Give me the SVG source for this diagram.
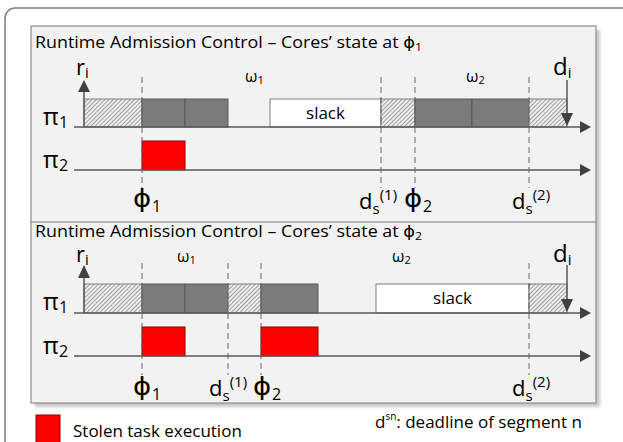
<svg xmlns="http://www.w3.org/2000/svg" width="623" height="442" viewBox="0 0 623 442">
<style>
text{font-family:"Open Sans","DejaVu Sans",sans-serif;fill:#000}
.panel{fill:#f2f2f2;stroke:#8c8c8c;stroke-width:1.2}
.hatch{fill:url(#h);stroke:#7f7f7f;stroke-width:1}
.dark{fill:#7b7b7b;stroke:#595959;stroke-width:1}
.slack{fill:#fff;stroke:#7f7f7f;stroke-width:1}
.red{fill:#ff0000;stroke:#900000;stroke-width:1}
.axis{stroke:#595959;stroke-width:1.5;fill:none}
.dash{stroke:#666;stroke-width:1;stroke-dasharray:6,4;fill:none}
.head{fill:#404040}
.t{font-size:16px}
.w{font-size:16px}
.lab{font-size:22px}
.phi{font-size:24px;font-family:"DejaVu Sans ExtraLight","DejaVu Sans",sans-serif}
.pi{font-size:24px}
.sub{font-size:16px}
</style>
<defs>
<pattern id="h" width="3" height="3" patternUnits="userSpaceOnUse" patternTransform="rotate(45)">
<rect width="3" height="3" fill="#eeeeee"/>
<line x1="0" y1="0" x2="0" y2="3" stroke="#6a6a6a" stroke-width="1.2"/>
</pattern>
<filter id="sh" x="-5%" y="-5%" width="110%" height="110%"><feGaussianBlur stdDeviation="1.5"/></filter>
</defs>
<rect x="0" y="0" width="623" height="442" fill="#fff"/>
<rect x="5" y="8" width="700" height="500" rx="10" fill="#fff" stroke="#7f7f7f" stroke-width="1.5"/>
<rect x="35" y="30" width="565" height="377" fill="#c8c8c8" filter="url(#sh)"/>

<g id="panel1">
<rect class="panel" x="31" y="26" width="565" height="197"/>
<text class="t" x="35" y="48" textLength="387" lengthAdjust="spacingAndGlyphs">Runtime Admission Control – Cores’ state at ϕ<tspan font-size="11" dy="3">1</tspan></text>
</g>
<g id="panel2">
<rect class="panel" x="31" y="222" width="565" height="181"/>
<text class="t" x="35" y="237" textLength="387" lengthAdjust="spacingAndGlyphs">Runtime Admission Control – Cores’ state at ϕ<tspan font-size="11" dy="3">2</tspan></text>
</g>

<g id="nodes1">
<rect class="hatch" x="84" y="99" width="58" height="28"/>
<rect class="dark" x="142" y="99" width="43" height="28"/>
<rect class="dark" x="185" y="99" width="43" height="28"/>
<rect class="slack" x="270" y="99" width="111" height="28"/>
<text x="325.5" y="119" font-size="17" text-anchor="middle">slack</text>
<rect class="hatch" x="381" y="99" width="34" height="28"/>
<rect class="dark" x="415" y="99" width="57" height="28"/>
<rect class="dark" x="472" y="99" width="57" height="28"/>
<rect class="hatch" x="529" y="99" width="38" height="28"/>
<rect class="red" x="142" y="141" width="43" height="29"/>
</g>
<g id="nodes2">
<rect class="hatch" x="84" y="284" width="58" height="29"/>
<rect class="dark" x="142" y="284" width="43" height="29"/>
<rect class="dark" x="185" y="284" width="43" height="29"/>
<rect class="hatch" x="228" y="284" width="33" height="29"/>
<rect class="dark" x="261" y="284" width="57" height="29"/>
<rect class="slack" x="376" y="284" width="153" height="29"/>
<text x="452.5" y="304" font-size="17" text-anchor="middle">slack</text>
<rect class="hatch" x="529" y="284" width="38" height="29"/>
<rect class="red" x="142" y="327" width="43" height="29"/>
<rect class="red" x="261" y="327" width="57" height="29"/>
</g>

<g id="connectors">
<path class="axis" d="M74 127H582M74 170H582M74 313H582M74 356H582"/>
<polygon class="head" points="580,121 591,127 580,133"/>
<polygon class="head" points="580,164 591,170 580,176"/>
<polygon class="head" points="580,307 591,313 580,319"/>
<polygon class="head" points="580,350 591,356 580,362"/>
<path class="axis" d="M84 127V92M567 80V114M84 313V277M567 265V300"/>
<polygon class="head" points="84,80 78,92 90,92"/>
<polygon class="head" points="561,113 573,113 567,126"/>
<polygon class="head" points="84,265 78,278 90,278"/>
<polygon class="head" points="561,299 573,299 567,312"/>
<path class="dash" d="M142 77V188M381 77V188M415 77V188M529 77V188"/>
<path class="dash" d="M142 263V375M228 263V375M261 263V375M529 263V375"/>
</g>

<g id="labels1">
<text x="76" y="75" font-size="22">r<tspan font-size="15" dy="3">i</tspan></text>
<text x="553" y="75" font-size="24">d<tspan font-size="15" dy="3">i</tspan></text>
<text class="w" x="245" y="82">ω<tspan font-size="11" dy="2">1</tspan></text>
<text class="w" x="466" y="82">ω<tspan font-size="11" dy="2">2</tspan></text>
<text class="pi" x="43" y="125">π</text><text class="sub" x="59" y="128">1</text>
<text class="pi" x="43" y="168">π</text><text class="sub" x="59" y="171">2</text>
<text class="phi" transform="translate(133,207) scale(1.15,1)">ϕ</text><text class="sub" x="152" y="212">1</text>
<text class="lab" x="359" y="209">d<tspan font-size="15" dy="5">s</tspan><tspan font-size="15" dy="-14">(1)</tspan></text>
<text class="phi" transform="translate(404,207) scale(1.15,1)">ϕ</text><text class="sub" x="423" y="212">2</text>
<text class="lab" x="512" y="209">d<tspan font-size="15" dy="5">s</tspan><tspan font-size="15" dy="-14">(2)</tspan></text>
</g>
<g id="labels2">
<text x="76" y="262" font-size="22">r<tspan font-size="15" dy="3">i</tspan></text>
<text x="553" y="262" font-size="24">d<tspan font-size="15" dy="3">i</tspan></text>
<text class="w" x="177" y="262">ω<tspan font-size="11" dy="2">1</tspan></text>
<text class="w" x="392" y="262">ω<tspan font-size="11" dy="2">2</tspan></text>
<text class="pi" x="43" y="310">π</text><text class="sub" x="59" y="313">1</text>
<text class="pi" x="43" y="354">π</text><text class="sub" x="59" y="357">2</text>
<text class="phi" transform="translate(133,395) scale(1.15,1)">ϕ</text><text class="sub" x="152" y="400">1</text>
<text class="lab" x="209" y="396">d<tspan font-size="15" dy="5">s</tspan><tspan font-size="15" dy="-14">(1)</tspan></text>
<text class="phi" transform="translate(253,395) scale(1.15,1)">ϕ</text><text class="sub" x="272" y="400">2</text>
<text class="lab" x="512" y="396">d<tspan font-size="15" dy="5">s</tspan><tspan font-size="15" dy="-14">(2)</tspan></text>
</g>

<g id="legend">
<rect class="red" x="36" y="415" width="24" height="32"/>
<text x="73" y="437" font-size="17">Stolen task execution</text>
<text x="375" y="428" font-size="17">d<tspan font-size="10" dy="-8">sn</tspan><tspan dy="8">: deadline of segment n</tspan></text>
</g>
</svg>
